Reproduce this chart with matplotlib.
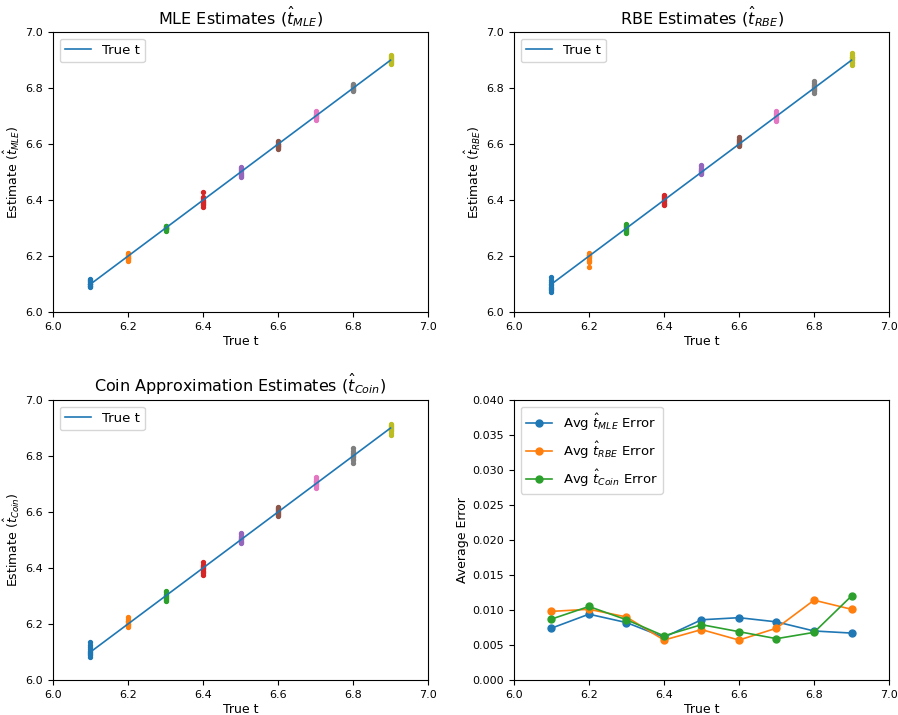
import matplotlib
matplotlib.use("Agg")
import matplotlib.pyplot as plt

# valores verdaderos de t
t_vals = [6.1, 6.2, 6.3, 6.4, 6.5, 6.6, 6.7, 6.8, 6.9]

# estimaciones por cada t (10 repeticiones)
mle_est = [
    [6.095, 6.102, 6.110, 6.089, 6.117, 6.099, 6.106, 6.092, 6.113, 6.101],
    [6.192, 6.205, 6.187, 6.198, 6.210, 6.183, 6.201, 6.195, 6.189, 6.207],
    [6.296, 6.304, 6.291, 6.308, 6.299, 6.302, 6.294, 6.306, 6.300, 6.297],
    [6.428, 6.412, 6.395, 6.388, 6.402, 6.376, 6.384, 6.407, 6.391, 6.398],
    [6.485, 6.512, 6.498, 6.520, 6.491, 6.505, 6.482, 6.509, 6.495, 6.516],
    [6.585, 6.598, 6.607, 6.592, 6.602, 6.589, 6.611, 6.595, 6.600, 6.583],
    [6.692, 6.705, 6.714, 6.698, 6.709, 6.688, 6.701, 6.717, 6.695, 6.703],
    [6.794, 6.806, 6.812, 6.790, 6.801, 6.797, 6.815, 6.803, 6.792, 6.808],
    [6.885, 6.903, 6.915, 6.892, 6.908, 6.896, 6.919, 6.889, 6.901, 6.912],
]
rbe_est = [
    [6.072, 6.085, 6.096, 6.108, 6.079, 6.115, 6.090, 6.127, 6.101, 6.083],
    [6.162, 6.178, 6.192, 6.205, 6.186, 6.199, 6.210, 6.181, 6.196, 6.203],
    [6.282, 6.297, 6.311, 6.304, 6.289, 6.316, 6.300, 6.293, 6.308, 6.286],
    [6.384, 6.397, 6.412, 6.405, 6.391, 6.419, 6.388, 6.408, 6.401, 6.415],
    [6.493, 6.508, 6.521, 6.499, 6.512, 6.503, 6.526, 6.496, 6.515, 6.505],
    [6.592, 6.605, 6.618, 6.599, 6.611, 6.624, 6.596, 6.608, 6.602, 6.614],
    [6.683, 6.697, 6.712, 6.705, 6.690, 6.718, 6.700, 6.687, 6.709, 6.694],
    [6.783, 6.797, 6.812, 6.826, 6.790, 6.805, 6.819, 6.801, 6.794, 6.808],
    [6.882, 6.895, 6.910, 6.925, 6.889, 6.903, 6.918, 6.899, 6.912, 6.907],
]
coin_est = [
    [6.082, 6.095, 6.110, 6.126, 6.089, 6.103, 6.134, 6.099, 6.117, 6.092],
    [6.188, 6.199, 6.212, 6.224, 6.193, 6.206, 6.218, 6.201, 6.195, 6.209],
    [6.281, 6.294, 6.308, 6.319, 6.287, 6.301, 6.313, 6.297, 6.290, 6.305],
    [6.375, 6.389, 6.404, 6.421, 6.382, 6.396, 6.412, 6.400, 6.386, 6.408],
    [6.489, 6.502, 6.516, 6.526, 6.494, 6.508, 6.520, 6.498, 6.511, 6.505],
    [6.584, 6.597, 6.610, 6.618, 6.590, 6.603, 6.614, 6.593, 6.606, 6.600],
    [6.685, 6.699, 6.712, 6.724, 6.692, 6.706, 6.718, 6.695, 6.703, 6.709],
    [6.776, 6.791, 6.808, 6.828, 6.784, 6.799, 6.817, 6.803, 6.795, 6.812],
    [6.876, 6.890, 6.905, 6.915, 6.883, 6.897, 6.910, 6.893, 6.901, 6.908],
]

# error medio por t
err_mle = [0.0074, 0.0094, 0.0082, 0.0061, 0.0086, 0.0089, 0.0083, 0.0070, 0.0067]
err_rbe = [0.0098, 0.0101, 0.0090, 0.0057, 0.0072, 0.0057, 0.0074, 0.0114, 0.0101]
err_coin = [0.0087, 0.0105, 0.0086, 0.0063, 0.0079, 0.0069, 0.0059, 0.0068, 0.0120]

colores = plt.rcParams['axes.prop_cycle'].by_key()['color']

plt.rcParams['xtick.labelsize'] = 8
plt.rcParams['ytick.labelsize'] = 8
plt.rcParams['axes.labelsize'] = 9
plt.rcParams['axes.labelpad'] = 2.5
plt.rcParams['axes.titlesize'] = 11.5
plt.rcParams['legend.fontsize'] = 9.5

fig, axs = plt.subplots(2, 2, figsize=(8.98, 7.15), dpi=100)
fig.subplots_adjust(left=0.059, right=0.990, bottom=0.049, top=0.955,
                    wspace=0.229, hspace=0.314)


def panel(ax, estimaciones, titulo, etiqueta):
    for i, t in enumerate(t_vals):
        ax.scatter([t] * len(estimaciones[i]), estimaciones[i], s=8,
                   color=colores[i % len(colores)], zorder=2)
    ax.plot(t_vals, t_vals, color=colores[0], lw=1.2, label='True t', zorder=3)
    ax.set_xlim(6.0, 7.0)
    ax.set_ylim(6.0, 7.0)
    ax.set_title(titulo)
    ax.set_xlabel('True t')
    ax.set_ylabel(etiqueta)
    ax.legend(loc='upper left')


panel(axs[0, 0], mle_est, r'MLE Estimates ($\hat{t}_{MLE}$)',
      r'Estimate ($\hat{t}_{MLE}$)')
panel(axs[0, 1], rbe_est, r'RBE Estimates ($\hat{t}_{RBE}$)',
      r'Estimate ($\hat{t}_{RBE}$)')
panel(axs[1, 0], coin_est, r'Coin Approximation Estimates ($\hat{t}_{Coin}$)',
      r'Estimate ($\hat{t}_{Coin}$)')

ax = axs[1, 1]
ax.plot(t_vals, err_mle, marker='o', ms=5, lw=1.2, label=r'Avg $\hat{t}_{MLE}$ Error')
ax.plot(t_vals, err_rbe, marker='o', ms=5, lw=1.2, label=r'Avg $\hat{t}_{RBE}$ Error')
ax.plot(t_vals, err_coin, marker='o', ms=5, lw=1.2, label=r'Avg $\hat{t}_{Coin}$ Error')
ax.set_xlim(6.0, 7.0)
ax.set_ylim(0, 0.04)
ax.set_xlabel('True t')
ax.set_ylabel('Average Error')
ax.legend(loc='upper left')

fig.savefig('out.png', dpi=100)
plt.close(fig)
